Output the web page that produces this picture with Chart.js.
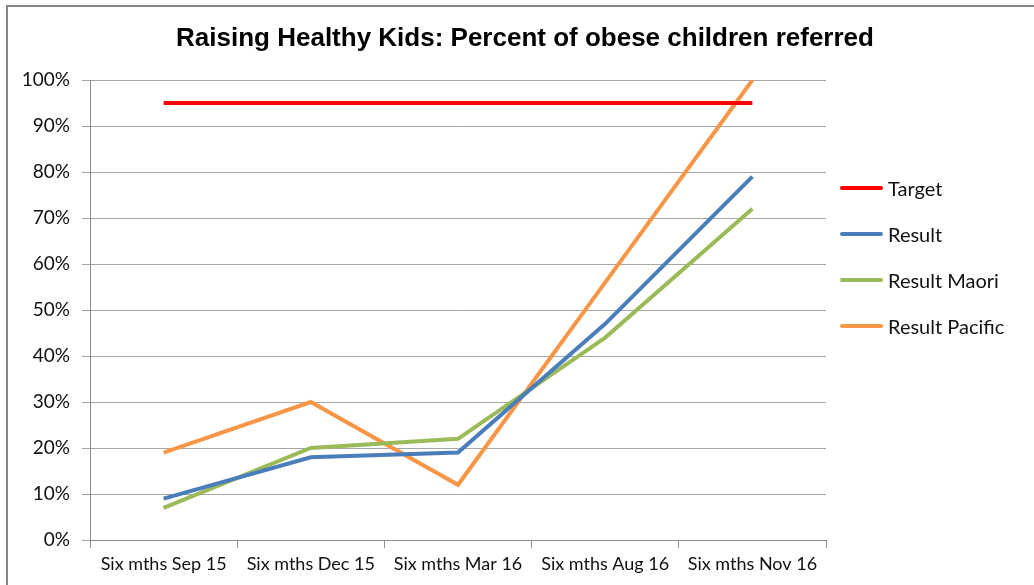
<html lang="en">

<head>
  <meta charset="UTF-8">
  <meta name="viewport" content="width=device-width, initial-scale=1.0">
  <script src="https://cdn.jsdelivr.net/npm/chart.js"></script>
  <title>Raising Healthy Kids</title>
  <style>
    body {
      margin: 0;
      background: #ffffff;
    }

    .chart-line {
      position: relative;
      width: 1034px;
      height: 585px;
    }

    .legend {
      position: absolute;
      left: 840px;
      top: 165px;
      font-family: Lato, sans-serif;
      font-size: 20px;
      color: #111;
    }

    .legend li {
      list-style: none;
      display: flex;
      align-items: center;
      height: 46px;
    }

    .legend ul {
      margin: 0;
      padding: 0;
    }

    .legend .color-box {
      display: inline-block;
      width: 43px;
      height: 4px;
      border-radius: 2px;
      margin-right: 5px;
    }
  </style>
</head>

<body>
  <div class="chart-line">
    <canvas id="chartLine" width="1034" height="585"></canvas>
    <div id="legend-container" class="legend"></div>
  </div>
  <script>
    const chartTitle = 'Raising Healthy Kids: Percent of obese children referred';
    const categories = ['Six mths Sep 15', 'Six mths Dec 15', 'Six mths Mar 16', 'Six mths Aug 16', 'Six mths Nov 16'];
    const target = [95, 95, 95, 95, 95];
    const result = [9, 18, 19, 47, 79];
    const resultMaori = [7, 20, 22, 44, 72];
    const resultPacific = [19, 30, 12, 56, 100];
    const yTicks = [0, 10, 20, 30, 40, 50, 60, 70, 80, 90, 100];

    const seriesNames = ['Target', 'Result', 'Result Maori', 'Result Pacific'];
    const colorSet = ['#ff0000', '#4a7ebb', '#9bbb59', '#f79646'];

    // html legend, same idea as the legend plugin in the docs
    const htmlLegendPlugin = {
      id: 'htmlLegend',
      afterUpdate(chart, args, options) {
        const container = document.getElementById(options.containerID);
        container.innerHTML = '';
        const ul = document.createElement('ul');
        chart.data.datasets.forEach(ds => {
          const li = document.createElement('li');
          const box = document.createElement('span');
          box.classList.add('color-box');
          box.style.background = ds.borderColor;
          li.appendChild(box);
          li.appendChild(document.createTextNode(ds.label));
          ul.appendChild(li);
        });
        container.appendChild(ul);
      }
    };

    // grey frame round the whole chart + title centred on the whole frame
    const framePlugin = {
      id: 'frame',
      afterDraw(chart) {
        const ctx = chart.ctx;
        ctx.save();
        ctx.strokeStyle = '#868686';
        ctx.lineWidth = 2;
        ctx.strokeRect(7, 6, chart.width + 20, chart.height + 20);

        ctx.fillStyle = '#000';
        ctx.font = 'bold 26px "Liberation Sans"';
        ctx.textAlign = 'center';
        ctx.textBaseline = 'middle';
        ctx.fillText(chartTitle, 525, 39);
        ctx.restore();
      }
    };

    const ctxLine = document.getElementById('chartLine');
    const values = [target, result, resultMaori, resultPacific];

    const lineChart = new Chart(ctxLine, {
      type: 'line',
      data: {
        labels: categories,
        datasets: values.map((v, i) => ({
          label: seriesNames[i],
          data: v,
          borderColor: colorSet[i],
          backgroundColor: colorSet[i],
          borderWidth: 4,
          pointRadius: 0,
          tension: 0
        }))
      },
      options: {
        responsive: false,
        animation: false,
        layout: {
          padding: { left: 10, right: 208, top: 80, bottom: 0 }
        },
        scales: {
          x: {
            offset: true,
            grid: {
              offset: true,
              drawOnChartArea: false,
              tickLength: 8,
              color: '#8c8c8c'
            },
            border: { color: '#8c8c8c' },
            ticks: {
              padding: 5,
              color: '#111',
              maxRotation: 0,
              font: { family: 'Lato', size: 18 }
            },
            afterFit(scale) { scale.height = 45; }
          },
          y: {
            min: 0,
            max: 100,
            afterBuildTicks(scale) {
              scale.ticks = yTicks.map(v => ({ value: v }));
            },
            grid: {
              color: '#a6a6a6',
              tickLength: 8
            },
            border: { color: '#8c8c8c' },
            ticks: {
              padding: 12,
              color: '#111',
              font: { family: 'Lato', size: 19 },
              callback: v => v + '%'
            },
            afterFit(scale) { scale.width = 80; }
          }
        },
        plugins: {
          legend: { display: false },
          tooltip: { enabled: false },
          htmlLegend: { containerID: 'legend-container' }
        }
      },
      plugins: [htmlLegendPlugin, framePlugin]
    });
  </script>
</body>

</html>
